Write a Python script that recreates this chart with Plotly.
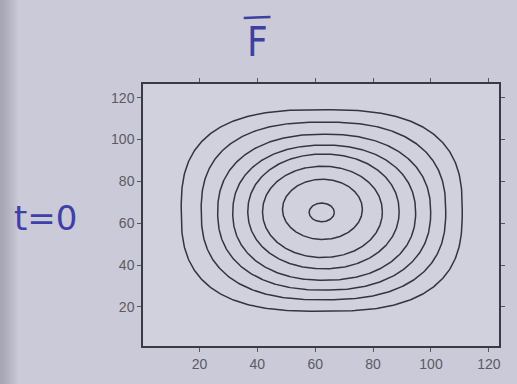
import numpy as np
import plotly.graph_objects as go

# Contour extents (data units), outer -> inner
contour_left   = [13.7, 20.6, 26.3, 31.5, 36.7, 41.8, 48.7, 57.9]
contour_right  = [110.8, 105.1, 99.9, 94.7, 89.0, 83.2, 76.3, 66.6]
contour_bottom = [17.9, 23.4, 28.0, 32.7, 38.2, 43.6, 52.2, 60.7]
contour_top    = [114.2, 108.3, 102.5, 97.3, 93.0, 87.2, 81.0, 69.6]
contour_square = [2.75, 2.5, 2.3, 2.2, 2.1, 2.05, 2.0, 2.0]

x_ticks = [20, 40, 60, 80, 100, 120]
y_ticks = [20, 40, 60, 80, 100, 120]
title_text = "F"
side_text = "t=0"

fig = go.Figure()
t = np.linspace(0, 2 * np.pi, 400)
for l, r, b, tp, p in zip(contour_left, contour_right, contour_bottom, contour_top, contour_square):
    cx, cy = (l + r) / 2, (b + tp) / 2
    ax, ay = (r - l) / 2, (tp - b) / 2
    c, s = np.cos(t), np.sin(t)
    xs = cx + ax * np.sign(c) * np.abs(c) ** (2 / p)
    ys = cy + ay * np.sign(s) * np.abs(s) ** (2 / p)
    fig.add_trace(go.Scatter(x=xs, y=ys, mode="lines",
                             line=dict(color="#34343f", width=1.5),
                             showlegend=False, hoverinfo="skip"))

axis_common = dict(showgrid=False, zeroline=False, showline=True, linecolor="#3a3a44",
                   linewidth=1.5, mirror="ticks", ticks="outside", ticklen=4,
                   tickcolor="#55555f", tickfont=dict(family="Liberation Sans", size=14, color="#5a5a64"))
fig.update_xaxes(range=[0.5, 123.5], tickvals=x_ticks, **axis_common)
fig.update_yaxes(range=[1.3, 126.5], tickvals=y_ticks, **axis_common)

# handwritten F with an overbar
fig.add_annotation(text=title_text, xref="paper", yref="paper", x=0.322, y=1.16,
                   xanchor="center", yanchor="middle",
                   showarrow=False,
                   font=dict(family="DejaVu Sans Condensed, Liberation Sans Narrow, DejaVu Sans",
                             size=40, color="#3f3fa0"))
fig.add_shape(type="line", xref="paper", yref="paper", x0=0.283, x1=0.358, y0=1.252, y1=1.256,
              line=dict(color="#3f3fa0", width=2.5))
fig.add_annotation(text=side_text, xref="paper", yref="paper", x=-0.275, y=0.49,
                   xanchor="center", yanchor="middle",
                   showarrow=False, font=dict(family="DejaVu Sans", size=34, color="#3f3fa8"))

# darker photo edge on the left (soft gradient)
for i in range(1, 9):
    fig.add_shape(type="rect", xref="paper", yref="paper", x0=-0.41, x1=-0.401 + i * 0.006,
                  y0=-0.2, y1=1.4, fillcolor="#7e7e8a", opacity=0.07, line=dict(width=0), layer="below")

fig.update_layout(width=517, height=384, margin=dict(l=143, r=17, t=84, b=32),
                  paper_bgcolor="#cbcad8", plot_bgcolor="#d1d0dd")
fig.write_html("out.html")
